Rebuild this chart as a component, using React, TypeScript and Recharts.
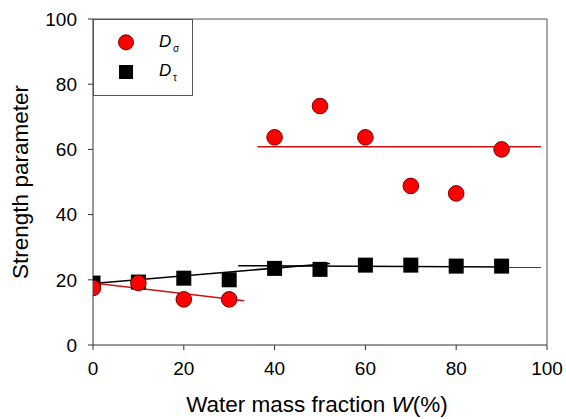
import React from "react";
import { ComposedChart, Scatter, Line, XAxis, YAxis, ReferenceLine } from "recharts";

const waterFraction = [0, 10, 20, 30, 40, 50, 60, 70, 80, 90];
const dSigma = [17.5, 19, 14, 14, 63.7, 73.3, 63.7, 48.8, 46.5, 60.0];
const dTau = [19, 19.3, 20.5, 20, 23.5, 23.2, 24.5, 24.5, 24.2, 24.2];
const xTicks = [0, 20, 40, 60, 80, 100];
const yTicks = [0, 20, 40, 60, 80, 100];

const sigmaFitLow = [{ x: 0, y: 19.0 }, { x: 33.3, y: 13.6 }];
const sigmaFitHigh = [{ x: 36.2, y: 60.8 }, { x: 98.7, y: 60.8 }];
const tauFitLow = [{ x: 0, y: 18.9 }, { x: 52.2, y: 25.0 }];
const tauFitHigh = [{ x: 32, y: 24.3 }, { x: 98.7, y: 23.9 }];

const sigmaData = waterFraction.map((x, i) => ({ x, y: dSigma[i] }));
const tauData = waterFraction.map((x, i) => ({ x, y: dTau[i] }));

const FONT = "Arial, 'Liberation Sans', sans-serif";

const CircleShape = (props: any) => {
  const { cx, cy } = props;
  if (cx == null || cy == null) return null;
  return <circle cx={cx} cy={cy} r={7.8} fill="#ff0000" stroke="#7a0000" strokeWidth={1} />;
};

const SquareShape = (props: any) => {
  const { cx, cy } = props;
  if (cx == null || cy == null) return null;
  return <rect x={cx - 7.5} y={cy - 7.5} width={15} height={15} fill="#000000" />;
};

const LegendBox = () => (
  <svg width={100} height={77} style={{ display: "block" }}>
    <rect x={0.5} y={0.5} width={99} height={76} fill="#ffffff" stroke="#555555" strokeWidth={1} />
    <circle cx={33} cy={23.3} r={7.5} fill="#ff0000" stroke="#7a0000" strokeWidth={1} />
    <rect x={26} y={46} width={14} height={14} fill="#000000" />
    <text x={66} y={28} fontFamily={FONT} fontSize={17} fontStyle="italic" fill="#000">D</text>
    <text x={80} y={33} fontFamily={FONT} fontSize={10} fill="#000">σ</text>
    <text x={66} y={57} fontFamily={FONT} fontSize={17} fontStyle="italic" fill="#000">D</text>
    <text x={80} y={62} fontFamily={FONT} fontSize={10} fill="#000">τ</text>
  </svg>
);

export default function App() {
  return (
    <div style={{ position: "absolute", left: 0, top: 0, width: 566, height: 419, background: "#fff" }}>
      <ComposedChart
        width={566}
        height={419}
        margin={{ top: 19, right: 19, bottom: 0, left: 0 }}
      >
        <XAxis
          xAxisId="main"
          type="number"
          dataKey="x"
          domain={[0, 100]}
          ticks={xTicks}
          allowDataOverflow
          height={74}
          tickSize={5}
          tickMargin={12}
          stroke="#333"
          tick={{ fill: "#000", fontSize: 19, fontFamily: FONT }}
          label={{
            content: () => (
              <text x={317} y={412} textAnchor="middle" fontFamily={FONT} fontSize={22.5} fill="#000">
                Water mass fraction <tspan fontStyle="italic">W</tspan>(%)
              </text>
            ),
          }}
        />
        <YAxis
          yAxisId="main"
          type="number"
          dataKey="y"
          domain={[0, 100]}
          ticks={yTicks}
          width={93}
          tickSize={5}
          tickMargin={11}
          stroke="#333"
          tick={{ fill: "#000", fontSize: 19, fontFamily: FONT }}
          label={{
            content: () => (
              <text
                x={28}
                y={182}
                textAnchor="middle"
                transform="rotate(-90 28 182)"
                fontFamily={FONT}
                fontSize={22.5}
                fill="#000"
              >
                Strength parameter
              </text>
            ),
          }}
        />
        <ReferenceLine xAxisId="main" yAxisId="main" y={100} stroke="#555" strokeWidth={1} />
        <ReferenceLine xAxisId="main" yAxisId="main" x={100} stroke="#555" strokeWidth={1} />
        <Scatter xAxisId="main" yAxisId="main" name="Dτ" data={tauData} dataKey="y" shape={SquareShape} isAnimationActive={false} />
        <Scatter xAxisId="main" yAxisId="main" name="Dσ" data={sigmaData} dataKey="y" shape={CircleShape} isAnimationActive={false} />
        <Line xAxisId="main" yAxisId="main" data={tauFitLow} dataKey="y" type="linear" stroke="#000" strokeWidth={1.5} dot={false} isAnimationActive={false} legendType="none" />
        <Line xAxisId="main" yAxisId="main" data={tauFitHigh} dataKey="y" type="linear" stroke="#000" strokeWidth={1.5} dot={false} isAnimationActive={false} legendType="none" />
        <Line xAxisId="main" yAxisId="main" data={sigmaFitLow} dataKey="y" type="linear" stroke="#d01010" strokeWidth={1.5} dot={false} isAnimationActive={false} legendType="none" />
        <Line xAxisId="main" yAxisId="main" data={sigmaFitHigh} dataKey="y" type="linear" stroke="#d01010" strokeWidth={1.5} dot={false} isAnimationActive={false} legendType="none" />
      </ComposedChart>
      <div style={{ position: "absolute", left: 93, top: 19, width: 100, height: 77 }}>
        <LegendBox />
      </div>
    </div>
  );
}
